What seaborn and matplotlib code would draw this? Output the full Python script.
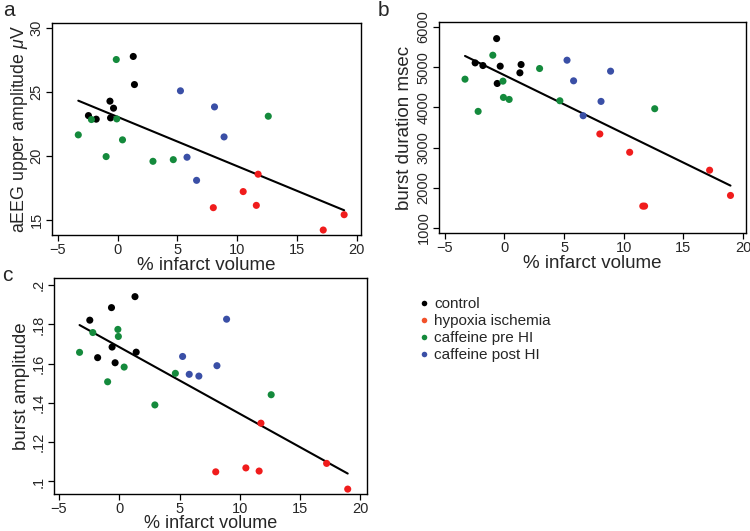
import numpy as np
import pandas as pd
import matplotlib
matplotlib.use("Agg")
import matplotlib.pyplot as plt
from matplotlib.lines import Line2D
from matplotlib.ticker import FixedLocator, FuncFormatter
import seaborn as sns

# ---------------- data ----------------
groups = ["control", "hypoxia ischemia", "caffeine pre HI", "caffeine post HI"]

control_x = [-2.45, -1.8, -0.65, -0.6, -0.35, 1.3, 1.4]
control_aeeg = [23.15, 22.87, 24.28, 22.97, 23.73, 27.78, 25.58]
control_dur = [5107, 5041, 5711, 4595, 5025, 4860, 5066]
control_amp = [0.1822, 0.1631, 0.1886, 0.1685, 0.1605, 0.1942, 0.1659]

hi_x = [8.0, 10.5, 11.6, 11.75, 17.2, 18.95]
hi_aeeg = [15.94, 17.20, 16.12, 18.56, 14.19, 15.39]
hi_dur = [3339, 2884, 1545, 1545, 2438, 1810]
hi_amp = [0.1049, 0.1069, 0.1053, 0.1297, 0.1092, 0.0961]

pre_x = [-3.3, -2.2, -0.97, -0.12, -0.08, 0.4, 2.95, 4.65, 12.6]
pre_aeeg = [21.64, 22.84, 19.94, 27.54, 22.89, 21.25, 19.57, 19.70, 23.10]
pre_dur = [4702, 3901, 5298, 4653, 4248, 4198, 4967, 4165, 3967]
pre_amp = [0.1658, 0.1759, 0.1508, 0.1775, 0.1739, 0.1583, 0.1390, 0.1551, 0.1442]

post_x = [5.25, 5.8, 6.6, 8.1, 8.9]
post_aeeg = [25.09, 19.89, 18.08, 23.83, 21.48]
post_dur = [5174, 4661, 3793, 4149, 4901]
post_amp = [0.1637, 0.1546, 0.1537, 0.1590, 0.1827]

xticks = [-5, 0, 5, 10, 15, 20]
aeeg_ticks = [15, 20, 25, 30]
dur_ticks = [1000, 2000, 3000, 4000, 5000, 6000]
amp_ticks = [0.1, 0.12, 0.14, 0.16, 0.18, 0.2]

colors = {"control": "#000000", "hypoxia ischemia": "#f01c1c",
          "caffeine pre HI": "#148a3c", "caffeine post HI": "#3a4fa6"}
legend_colors = ["#000000", "#f2512a", "#148a3c", "#3a4fa6"]

rows = []
for g, xs, a, d, m in [
    ("control", control_x, control_aeeg, control_dur, control_amp),
    ("hypoxia ischemia", hi_x, hi_aeeg, hi_dur, hi_amp),
    ("caffeine pre HI", pre_x, pre_aeeg, pre_dur, pre_amp),
    ("caffeine post HI", post_x, post_aeeg, post_dur, post_amp),
]:
    for i in range(len(xs)):
        rows.append({"group": g, "infarct": xs[i], "aeeg": a[i], "dur": d[i], "amp": m[i]})
df = pd.DataFrame(rows)

# ---------------- style ----------------
sns.set_style("ticks")
plt.rcParams["font.family"] = ["Liberation Sans", "DejaVu Sans"]
plt.rcParams["mathtext.fontset"] = "custom"
plt.rcParams["mathtext.it"] = "Liberation Sans:italic"
plt.rcParams["mathtext.rm"] = "Liberation Sans"

fig = plt.figure(figsize=(7.5, 5.31), dpi=100)
W, H = 750.0, 531.0

def axes_px(l, t, r, b):
    return fig.add_axes([l / W, 1 - b / H, (r - l) / W, (b - t) / H])

ax_a = axes_px(52, 23, 361, 235)
ax_b = axes_px(439, 22, 746, 233)
ax_c = axes_px(54, 278, 367, 494)

amp_fmt = lambda v, p: ("%.2f" % v).lstrip("0").rstrip("0").rstrip(".")

panels = [
    (ax_a, "aeeg", r"aEEG upper amplitude $\mu$V", 12.8, 0, 0, 13.5, aeeg_ticks, (13.8, 30.4), (-5.5, 20.36), None),
    (ax_b, "dur", "burst duration msec", 13.5, 3, 0, 13.5, dur_ticks, (876, 6124), (-5.48, 20.25), None),
    (ax_c, "amp", "burst amplitude", 13.5, 1, -1, 13, amp_ticks, (0.0936, 0.2037), (-5.42, 20.55), amp_fmt),
]

for ax, col, ylabel, yfs, ypad, xpad, xfs, yt, ylim, xlim, fmt in panels:
    sns.regplot(data=df, x="infarct", y=col, ax=ax, scatter=False, ci=None,
                line_kws={"color": "black", "lw": 1.5})
    sns.scatterplot(data=df, x="infarct", y=col, hue="group", hue_order=groups,
                    palette=colors, ax=ax, s=26, edgecolor="none", legend=False, zorder=3)
    ax.set_xlim(*xlim)
    ax.set_ylim(*ylim)
    ax.xaxis.set_major_locator(FixedLocator(xticks))
    ax.yaxis.set_major_locator(FixedLocator(yt))
    if fmt is not None:
        ax.yaxis.set_major_formatter(FuncFormatter(fmt))
    ax.set_xlabel("% infarct volume", fontsize=xfs, labelpad=xpad)
    ax.set_ylabel(ylabel, fontsize=yfs, labelpad=ypad)
    ax.tick_params(axis="both", labelsize=10.5, direction="out", length=4, width=0.9,
                   color="black", pad=2)
    plt.setp(ax.get_yticklabels(), rotation=90, va="center")
    for s in ax.spines.values():
        s.set_visible(True)
        s.set_color("black")
        s.set_linewidth(1.0)

fig.text(3 / W, 1 - 1 / H, "a", fontsize=15, va="top", ha="left")
fig.text(378 / W, 1 - 1 / H, "b", fontsize=15, va="top", ha="left")
fig.text(2 / W, 1 - 266 / H, "c", fontsize=15, va="top", ha="left")

handles = [Line2D([], [], marker="o", linestyle="none", markersize=4,
                  markerfacecolor=c, markeredgecolor="none") for c in legend_colors]
fig.legend(handles, groups, loc="upper left", bbox_to_anchor=(416 / W, 1 - 297 / H),
           frameon=False, fontsize=11, handletextpad=0.2, labelspacing=0.2,
           handlelength=1.0, borderaxespad=0, borderpad=0)

fig.savefig("out.png", dpi=100)
